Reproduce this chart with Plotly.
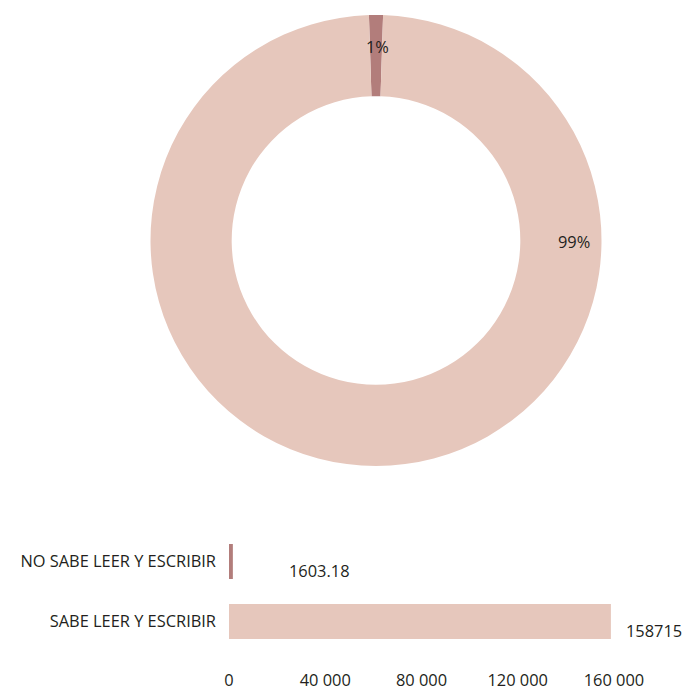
import plotly.graph_objects as go

# Literacy counts
categories = ["NO SABE LEER Y ESCRIBIR", "SABE LEER Y ESCRIBIR"]
values = [1603.18, 158715]
colors = ["#B27D7B", "#E6C7BC"]
tick_vals = [0, 40000, 80000, 120000, 160000]
tick_text = ["0", "40 000", "80 000", "120 000", "160 000"]

W, H = 685, 691
FONT = "Open Sans"
TXT = "#231F20"
FS = 16.4

fig = go.Figure()

# Donut: centre (376, 240.5), outer radius 225.5 px
cx, cy, r = 376, 240.5, 225.5
fig.add_trace(go.Pie(
    labels=categories,
    values=values,
    marker=dict(colors=colors, line=dict(width=0)),
    hole=0.64,
    sort=False,
    direction="clockwise",
    rotation=-1.8,
    textinfo="none",
    hoverinfo="label+value+percent",
    showlegend=False,
    domain=dict(x=[(cx - r) / W, (cx + r) / W],
                y=[(H - cy - r) / H, (H - cy + r) / H]),
))

# Horizontal bars (SABE at the bottom, NO SABE above it)
fig.add_trace(go.Bar(
    x=values[::-1],
    y=categories[::-1],
    orientation="h",
    marker=dict(color=colors[::-1], line=dict(width=0)),
    showlegend=False,
    hoverinfo="y+x",
))

total = sum(values)
pct = [round(v / total * 100) for v in values]

annotations = [
    # percentage labels on the ring
    dict(x=377 / W, y=(H - 47) / H, xref="paper", yref="paper",
         xanchor="center", yanchor="middle",
         text=f"{pct[0]}%", showarrow=False,
         font=dict(family=FONT, size=FS, color=TXT)),
    dict(x=574 / W, y=(H - 242) / H, xref="paper", yref="paper",
         xanchor="center", yanchor="middle",
         text=f"{pct[1]}%", showarrow=False,
         font=dict(family=FONT, size=FS, color=TXT)),
]
# value labels beside the bars
shifts = [54, 13]
for cat, v, s in zip(categories, values, shifts):
    annotations.append(dict(
        x=v, y=cat, xref="x", yref="y", text=f"{v:g}",
        xanchor="left", yanchor="middle", showarrow=False,
        xshift=s, yshift=-9,
        font=dict(family=FONT, size=FS, color=TXT)))

x0, x1 = 229, 614
y_top, y_bot = 531.5, 651.5
fig.update_layout(
    width=W, height=H,
    margin=dict(l=0, r=0, t=0, b=0, autoexpand=False),
    paper_bgcolor="white",
    plot_bgcolor="white",
    bargap=0.417,
    font=dict(family=FONT, size=FS, color=TXT),
    xaxis=dict(domain=[x0 / W, x1 / W], range=[0, 160000],
               tickvals=tick_vals, ticktext=tick_text,
               showgrid=False, zeroline=False, showline=False,
               ticks="", ticklabelstandoff=17, automargin=False,
               tickfont=dict(family=FONT, size=FS, color=TXT),
               fixedrange=True),
    yaxis=dict(domain=[(H - y_bot) / H, (H - y_top) / H],
               range=[-0.5, 1.5], categoryorder="array",
               categoryarray=categories[::-1],
               showgrid=False, zeroline=False, showline=False,
               ticks="", ticklabelstandoff=12, automargin=False,
               tickfont=dict(family=FONT, size=FS, color=TXT),
               fixedrange=True),
    annotations=annotations,
)

fig.write_html("out.html")
